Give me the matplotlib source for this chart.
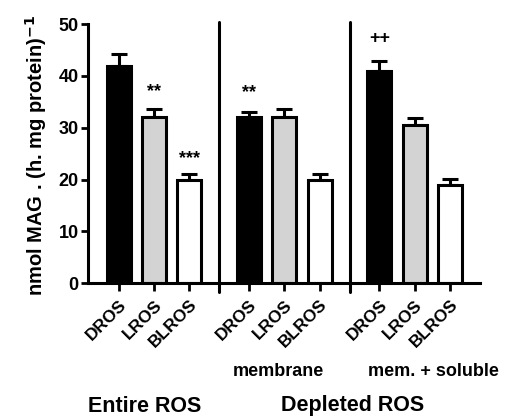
import numpy as np
import matplotlib
matplotlib.use('Agg')
from matplotlib import pyplot as plt

plt.rcParams['font.family'] = ['Liberation Sans', 'DejaVu Sans']
plt.rcParams['font.weight'] = 'bold'

labels = ['DROS', 'LROS', 'BLROS'] * 3
values = [42, 32, 20, 32, 32, 20, 41, 30.6, 19]
errors = [2.3, 1.6, 1.1, 1.1, 1.6, 1.1, 1.9, 1.2, 1.1]
colors = ['black', '#d3d3d3', 'white'] * 3
marks = {1: '**', 2: '***', 3: '**', 6: '++'}
mark_y = {1: 37.0, 2: 24.0, 3: 36.8, 6: 47.3}

x = np.array([0, 1, 2, 3.7, 4.7, 5.7, 7.4, 8.4, 9.4])
seps = [2.85, 6.55]

fig = plt.figure(figsize=(5.05, 4.17), dpi=100)
ax = fig.add_axes([0.175, 0.321, 0.776, 0.621])

ax.bar(x, values, width=0.68, color=colors, edgecolor='black', linewidth=2.2, zorder=2)
ax.errorbar(x, values, yerr=[np.zeros(len(errors)), errors], fmt='none',
            ecolor='black', elinewidth=2.2, capsize=5.5, capthick=2.2, zorder=1)

for s in seps:
    ax.plot([s, s], [-1.7, 50.4], color='black', lw=2.2, clip_on=False,
            solid_capstyle='round')

for i, m in marks.items():
    ax.text(x[i], mark_y[i], m, ha='center', va='center', fontsize=13, fontweight='bold')

ax.set_xlim(-0.86, 10.26)
ax.set_ylim(0, 50)
ax.set_yticks([0, 10, 20, 30, 40, 50])
ax.set_xticks(x)
ax.set_xticklabels(labels, rotation=45, ha='right', rotation_mode='anchor', fontsize=12.5)
ax.tick_params(axis='y', width=2, length=5, labelsize=13, pad=2)
ax.tick_params(axis='x', width=2, length=6, pad=4)
for lab in ax.get_yticklabels():
    lab.set_fontweight('bold')
for sp in ['top', 'right']:
    ax.spines[sp].set_visible(False)
for sp in ['left', 'bottom']:
    ax.spines[sp].set_linewidth(2.2)

fig.text(36 / 505, 1 - 155 / 417, 'nmol MAG . (h. mg protein)$^{\\mathbf{-1}}$',
         rotation=90, ha='center', va='center', fontsize=14.5, fontweight='bold')

fig.text(278 / 505, 1 - 371 / 417, 'membrane', ha='center', va='center', fontsize=13, fontweight='bold')
fig.text(433 / 505, 1 - 371 / 417, 'mem. + soluble', ha='center', va='center', fontsize=13, fontweight='bold')
fig.text(145 / 505, 1 - 406 / 417, 'Entire ROS', ha='center', va='center', fontsize=15.5, fontweight='bold')
fig.text(353 / 505, 1 - 406 / 417, 'Depleted ROS', ha='center', va='center', fontsize=15.5, fontweight='bold')

fig.savefig('out.png', dpi=100)
